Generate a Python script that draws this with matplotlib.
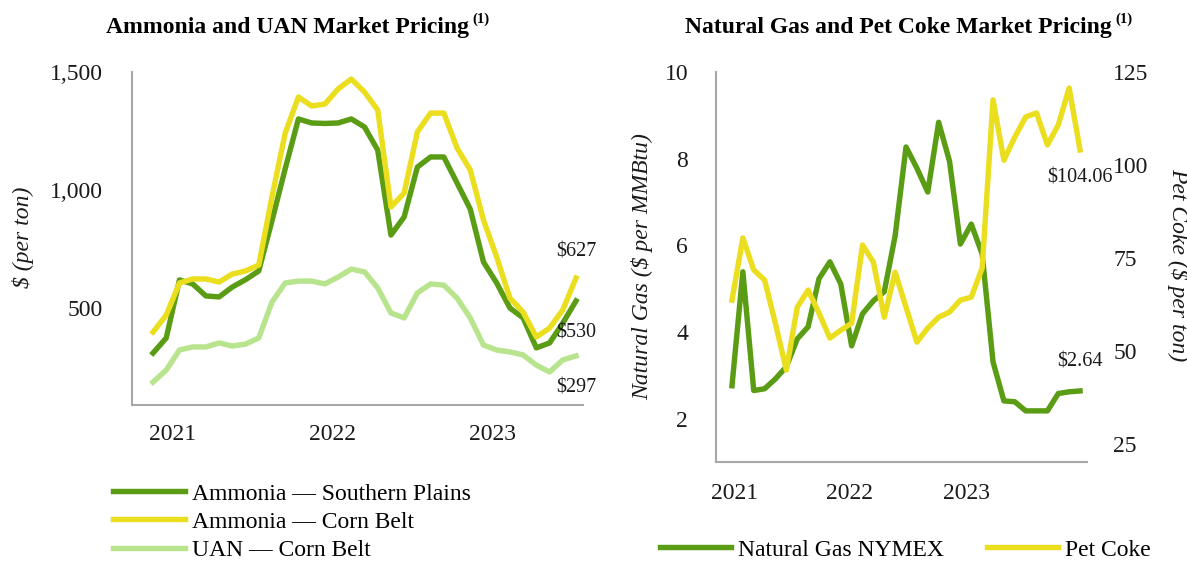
import numpy as np
import matplotlib.pyplot as plt

plt.rcParams['font.family'] = ['Liberation Serif', 'DejaVu Serif']

# monthly prices
ammonia_sp = [309, 373, 619, 602, 551, 547, 589, 620, 657, 870, 1090, 1301, 1284, 1282, 1284, 1301, 1267,
              1169, 809, 886, 1097, 1140, 1140, 1030, 919, 695, 606, 500, 458, 331, 352, 436, 530]
ammonia_cb = [398, 470, 606, 623, 623, 610, 644, 657, 682, 971, 1241, 1394, 1356, 1364, 1428, 1470, 1415,
              1339, 928, 987, 1246, 1326, 1326, 1178, 1085, 873, 716, 542, 483, 377, 415, 492, 627]
uan_cb = [186, 237, 322, 335, 335, 352, 339, 347, 373, 525, 606, 614, 614, 602, 631, 665, 653,
          585, 479, 458, 564, 602, 597, 542, 458, 343, 322, 314, 301, 258, 229, 280, 297]

nat_gas = [2.76, 5.39, 2.65, 2.69, 2.92, 3.2, 3.84, 4.12, 5.23, 5.62, 5.11, 3.68, 4.42, 4.72, 4.93, 6.22, 8.27,
           7.78, 7.23, 8.84, 7.94, 6.03, 6.49, 5.8, 3.31, 2.41, 2.39, 2.18, 2.18, 2.18, 2.58, 2.62, 2.64]
pet_coke = [63.7, 80.4, 71.8, 69.1, 57.3, 44.9, 61.8, 66.4, 60.2, 53.5, 55.6, 57.5, 78.5, 73.9, 59.1, 71.2, 61.8,
            52.4, 56.2, 59.1, 60.5, 63.7, 64.5, 72.3, 117.5, 101.3, 107.5, 112.9, 114.0, 105.4, 110.8, 120.7, 104.06]

years = ['2021', '2022', '2023']

DARK = '#5a9c14'
YELLOW = '#ebde1e'
LIGHT = '#b8e48e'
SPINE = '#a8a8a8'
TXT = '#1a1a1a'
FS = 17
LW = 3.9

W, H = 1187, 562
fig = plt.figure(figsize=(W / 100, H / 100), dpi=100)


def px(x0, y0, x1, y1):
    # pixel box -> figure fraction rect
    return [x0 / W, 1 - y1 / H, (x1 - x0) / W, (y1 - y0) / H]


def style(ax):
    for s in ['top', 'right']:
        ax.spines[s].set_visible(False)
    for s in ['left', 'bottom']:
        ax.spines[s].set_color(SPINE)
        ax.spines[s].set_linewidth(1.5)
    ax.tick_params(length=0, labelsize=FS, colors=TXT)


x = np.arange(len(ammonia_sp))

# ---- left: ammonia / UAN
ax1 = fig.add_axes(px(132, 72, 583, 405))
l1, = ax1.plot(x, ammonia_sp, color=DARK, lw=LW, label='Ammonia — Southern Plains')
l2, = ax1.plot(x, ammonia_cb, color=YELLOW, lw=LW, label='Ammonia — Corn Belt')
l3, = ax1.plot(x, uan_cb, color=LIGHT, lw=LW, label='UAN — Corn Belt')
style(ax1)
ax1.set_xlim(-1.59, 32.53)
ax1.set_ylim(89, 1500)
ax1.set_yticks([500, 1000, 1500])
ax1.set_yticklabels(['500', '1,000', '1,500'])
ax1.set_xticks([1.5, 13.6, 25.7])
ax1.set_xticklabels(years)
ax1.tick_params(axis='y', pad=21)
ax1.tick_params(axis='x', pad=14)
ax1.text(32, 737, '$627', ha='center', va='center', fontsize=14.5, color=TXT)
ax1.text(32, 394, '$530', ha='center', va='center', fontsize=14.5, color=TXT)
ax1.text(32, 161, '$297', ha='center', va='center', fontsize=14.5, color=TXT)

# ---- right: natural gas / pet coke
ax2 = fig.add_axes(px(716, 72, 1087, 462))
g1, = ax2.plot(x, nat_gas, color=DARK, lw=LW)
ax3 = ax2.twinx()
g2, = ax3.plot(x, pet_coke, color=YELLOW, lw=LW)
style(ax2)
for s in ax3.spines.values():
    s.set_visible(False)
ax3.tick_params(length=0, labelsize=FS, colors=TXT, pad=19)
ax2.set_xlim(-1.47, 32.64)
ax2.set_ylim(1, 10)
ax2.set_yticks([2, 4, 6, 8, 10])
ax3.set_ylim(20.2, 125)
ax3.set_yticks([25, 50, 75, 100, 125])
ax2.set_xticks([0.28, 10.85, 21.6])
ax2.set_xticklabels(years)
ax2.tick_params(axis='y', pad=20)
ax2.tick_params(axis='x', pad=15)
ax3.text(32, 96.5, '$104.06', ha='center', va='center', fontsize=14.5, color=TXT)
ax2.text(32, 3.31, '$2.64', ha='center', va='center', fontsize=14.5, color=TXT)

# ---- axis titles
fig.text(23 / W, 1 - 237 / H, '$ (per ton)', rotation=90, ha='center', va='center',
         fontsize=FS, style='italic', color=TXT)
fig.text(642 / W, 1 - 267 / H, 'Natural Gas ($ per MMBtu)', rotation=90, ha='center', va='center',
         fontsize=FS, style='italic', color=TXT)
fig.text(1178 / W, 1 - 265 / H, 'Pet Coke ($ per ton)', rotation=-90, ha='center', va='center',
         fontsize=FS, style='italic', color=TXT)

# ---- titles with superscript note
for cx, title, ax in [(287, 'Ammonia and UAN Market Pricing', ax1),
                      (898, 'Natural Gas and Pet Coke Market Pricing', ax2)]:
    t = fig.text(cx / W, 1 - 27 / H, title, ha='center', va='center',
                 fontsize=17, fontweight='bold', color='black')
    ax.annotate('(1)', xy=(1, 0.55), xycoords=t, xytext=(3, 0), textcoords='offset points',
                fontsize=10.5, fontweight='bold', va='bottom', ha='left')

# ---- legends
fig.legend([l1, l2, l3], [l1.get_label(), l2.get_label(), l3.get_label()],
           loc='upper left', bbox_to_anchor=(113 / W, 1 - 483 / H), frameon=False,
           fontsize=FS, handlelength=3.05, handletextpad=0.3, labelspacing=0.28,
           borderpad=0, borderaxespad=0)
fig.legend([g1, g2], ['Natural Gas NYMEX', 'Pet Coke'], ncol=2,
           loc='upper left', bbox_to_anchor=(660 / W, 1 - 539 / H), frameon=False,
           fontsize=FS, handlelength=3.0, handletextpad=0.3, columnspacing=1.85,
           borderpad=0, borderaxespad=0)

fig.savefig('out.png', dpi=100)
